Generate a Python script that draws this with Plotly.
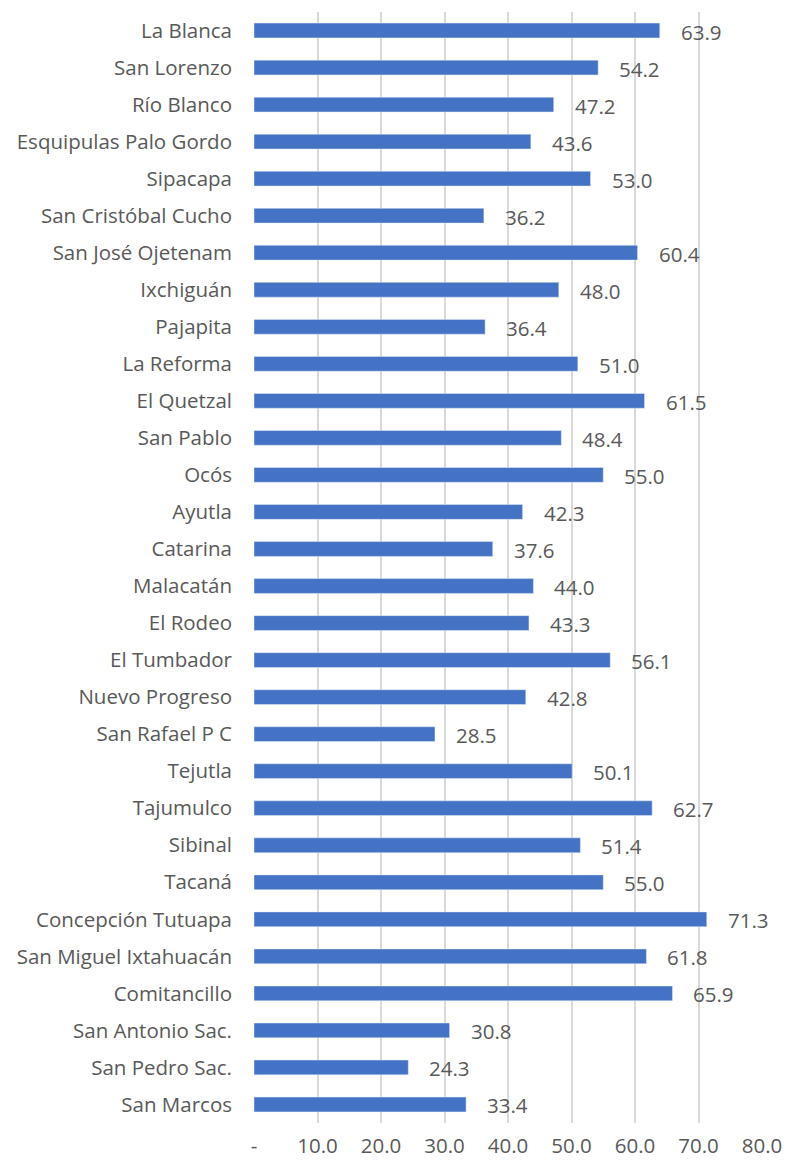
import plotly.graph_objects as go

categories = ["San Marcos", "San Pedro Sac.", "San Antonio Sac.", "Comitancillo",
              "San Miguel Ixtahuacán", "Concepción Tutuapa", "Tacaná", "Sibinal",
              "Tajumulco", "Tejutla", "San Rafael P C", "Nuevo Progreso", "El Tumbador",
              "El Rodeo", "Malacatán", "Catarina", "Ayutla", "Ocós", "San Pablo",
              "El Quetzal", "La Reforma", "Pajapita", "Ixchiguán", "San José Ojetenam",
              "San Cristóbal Cucho", "Sipacapa", "Esquipulas Palo Gordo", "Río Blanco",
              "San Lorenzo", "La Blanca"]
values = [33.4, 24.3, 30.8, 65.9, 61.8, 71.3, 55.0, 51.4, 62.7, 50.1, 28.5, 42.8, 56.1,
          43.3, 44.0, 37.6, 42.3, 55.0, 48.4, 61.5, 51.0, 36.4, 48.0, 60.4, 36.2, 53.0,
          43.6, 47.2, 54.2, 63.9]
tick_vals = [0, 10, 20, 30, 40, 50, 60, 70, 80]
tick_text = ["-", "10.0", "20.0", "30.0", "40.0", "50.0", "60.0", "70.0", "80.0"]

FONT = "Open Sans"
GRAY = "#595959"
FS = 20.5

fig = go.Figure(go.Bar(
    y=categories, x=values, orientation="h",
    marker=dict(color="#4472C4"),
    hoverinfo="skip",
))

for c, v in zip(categories, values):
    fig.add_annotation(x=v, y=c, text=f"{v:.1f}", showarrow=False,
                       xanchor="left", xshift=19, yshift=-1,
                       font=dict(family=FONT, size=FS, color=GRAY))

fig.update_layout(
    width=786, height=1162,
    margin=dict(l=254, r=24, t=12, b=39),
    plot_bgcolor="white", paper_bgcolor="white",
    bargap=0.6, showlegend=False,
    font=dict(family=FONT, size=FS, color=GRAY),
)
fig.update_xaxes(range=[0, 80], tickvals=tick_vals, ticktext=tick_text,
                 showgrid=True, gridcolor="#D9D9D9", gridwidth=1.5,
                 zeroline=False, showline=False, ticks="", ticklabelstandoff=8,
                 automargin=False,
                 tickfont=dict(family=FONT, size=FS, color=GRAY))
fig.update_yaxes(categoryorder="array", categoryarray=categories,
                 showgrid=False, showline=False, ticks="", ticklabelstandoff=21,
                 automargin=False,
                 tickfont=dict(family=FONT, size=FS, color=GRAY))

fig.write_html("out.html", config={"displayModeBar": False},
               post_script="document.body.style.margin='0';")
